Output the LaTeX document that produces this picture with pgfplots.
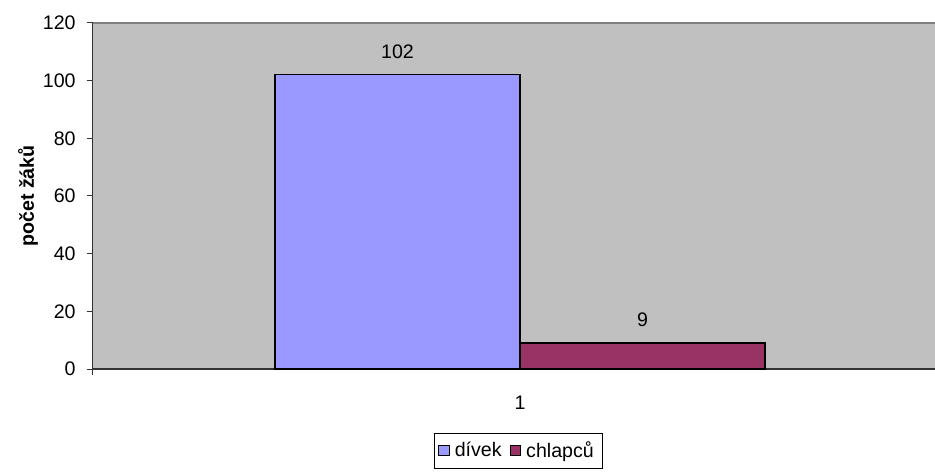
\documentclass[border=0pt]{standalone}
\usepackage{fontspec}
\setmainfont{Liberation Sans}
\usepackage{pgfplots}
\pgfplotsset{compat=1.18}

\definecolor{plotbg}{HTML}{C0C0C0}
\definecolor{divek}{HTML}{9999FF}
\definecolor{chlapcu}{HTML}{993366}

\begin{document}
\fontsize{9.8}{11.5}\selectfont
\begin{tikzpicture}
\path[use as bounding box] (-46.25pt,-51pt) rectangle (421.25pt,184.5pt);
\begin{axis}[
    at={(0,0)}, anchor=south west,
    scale only axis,
    width=421.25pt, height=173pt,
    xmin=-427.5, xmax=415,
    ymin=0, ymax=120,
    ytick={0,20,...,120},
    xtick={-427.5,415},
    xticklabels={},
    extra x ticks={0},
    extra x tick labels={1},
    extra x tick style={major tick length=0pt},
    xticklabel style={yshift=-10pt},
    tick align=outside,
    major tick length=3pt,
    tick style={black!80, line width=0.5pt},
    axis x line*=bottom,
    axis y line*=left,
    axis line style={-, black!80, line width=0.6pt},
    axis background/.style={fill=plotbg},
    /pgf/number format/assume math mode=true,
    ticklabel style={font=\fontsize{9.8}{11.5}\selectfont},
    yticklabel style={xshift=-2pt},
    ylabel={\bfseries počet žáků},
    ylabel style={at={(axis description cs:-0.0766,0.5)}, anchor=center, font=\fontsize{9.8}{11.5}\selectfont},
    ybar, bar width=245, bar shift=0,
    nodes near coords,
    nodes near coords style={anchor=base, yshift=8.3pt, font=\fontsize{9.8}{11.5}\selectfont, text=black},
    legend columns=2,
    legend style={at={(axis description cs:0.5056,-0.237)}, anchor=center,
        draw=black, fill=white, line width=0.5pt, inner xsep=2pt, inner ysep=2pt,
        font=\fontsize{9.8}{11.5}\selectfont,
        nodes={inner xsep=2.5pt, inner ysep=2pt},
        /tikz/every even column/.append style={column sep=1.5pt}},
    legend image code/.code={\draw[#1, line width=0.5pt] (0pt,-2.35pt) rectangle (5.3pt,2.95pt);},
]
\draw[gray, line width=0.6pt] (rel axis cs:0,1) -- (rel axis cs:1,1);
\addplot[fill=divek, draw=black, line width=0.6pt] coordinates {(-122.5,102)};
\addlegendentry{dívek}
\addplot[fill=chlapcu, draw=black, line width=0.6pt] coordinates {(122.5,9)};
\addlegendentry{chlapců}
\end{axis}
\end{tikzpicture}
\end{document}
